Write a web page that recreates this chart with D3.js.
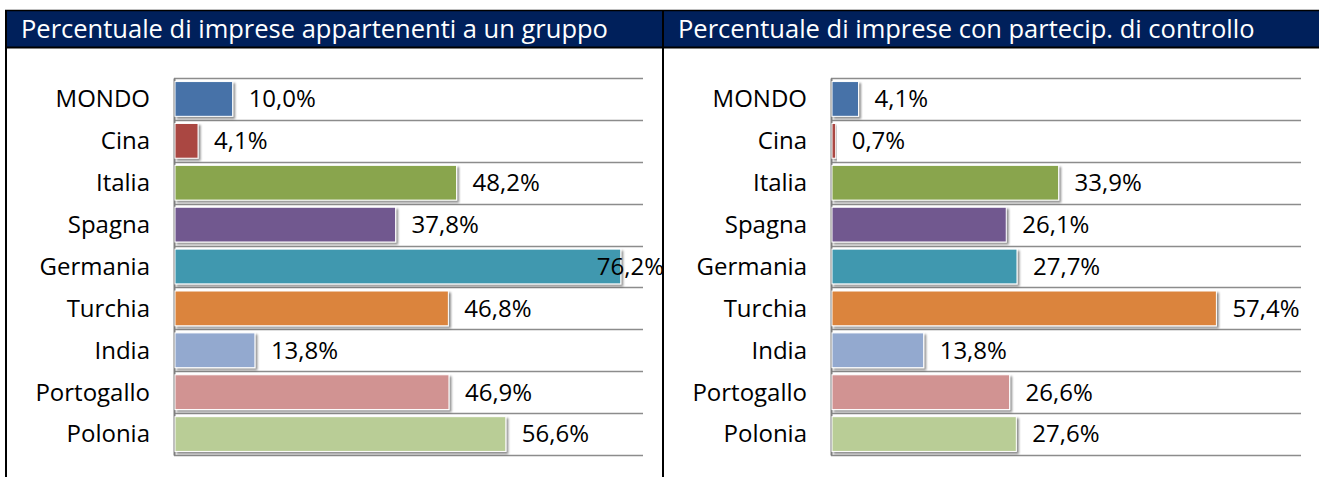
<!DOCTYPE html>
<html>
<head>
<meta charset="utf-8">
<script src="https://cdn.jsdelivr.net/npm/d3@7"></script>
<style>
  body { margin: 0; background: #fff; }
  svg text { font-family: "Open Sans", Lato, sans-serif; }
</style>
</head>
<body>
<div id="chart"></div>
<script>
var width = 1319,
  height = 477;

var categories = ["MONDO", "Cina", "Italia", "Spagna", "Germania", "Turchia", "India", "Portogallo", "Polonia"];
var groupValues = [10.0, 4.1, 48.2, 37.8, 76.2, 46.8, 13.8, 46.9, 56.6];
var controlValues = [4.1, 0.7, 33.9, 26.1, 27.7, 57.4, 13.8, 26.6, 27.6];
var barColors = ["#4672A8", "#AA4643", "#89A54E", "#71588F", "#4198AF", "#DB843D", "#93A9CF", "#D19392", "#B9CD96"];
var titles = ["Percentuale di imprese appartenenti a un gruppo", "Percentuale di imprese con partecip. di controllo"];

var itLocale = d3.formatLocale({ decimal: ",", thousands: ".", grouping: [3], currency: ["", " €"] });
var fmt = itLocale.format(".1f");

var svg = d3.select("#chart").append("svg")
  .attr("width", width)
  .attr("height", height);

var defs = svg.append("defs");
var shadow = defs.append("filter")
  .attr("id", "shadow")
  .attr("x", "-10%").attr("y", "-20%")
  .attr("width", "130%").attr("height", "160%");
shadow.append("feDropShadow")
  .attr("dx", 2).attr("dy", 2)
  .attr("stdDeviation", 1.2)
  .attr("flood-color", "#000")
  .attr("flood-opacity", 0.45);

// header band
svg.append("rect")
  .attr("x", 5).attr("y", 11)
  .attr("width", width - 5).attr("height", 36)
  .attr("fill", "#00205B");
svg.append("line")
  .attr("x1", 5).attr("x2", width)
  .attr("y1", 10.5).attr("y2", 10.5)
  .attr("stroke", "#000").attr("stroke-width", 1.5);
svg.append("line")
  .attr("x1", 5).attr("x2", width)
  .attr("y1", 47.5).attr("y2", 47.5)
  .attr("stroke", "#000").attr("stroke-width", 2);
svg.append("line")
  .attr("x1", 6).attr("x2", 6)
  .attr("y1", 10).attr("y2", height)
  .attr("stroke", "#000").attr("stroke-width", 2);
svg.append("line")
  .attr("x1", 663).attr("x2", 663)
  .attr("y1", 10).attr("y2", height)
  .attr("stroke", "#000").attr("stroke-width", 2);

var panels = [
  { title: titles[0], values: groupValues, max: 80, left: 174, right: 643, titleX: 21, edge: 664 },
  { title: titles[1], values: controlValues, max: 70, left: 831, right: 1301, titleX: 678, edge: 1319 }
];

var y = d3.scaleBand()
  .domain(categories)
  .range([78, 455])
  .paddingInner(0.17)
  .paddingOuter(0.085);

panels.forEach(drawPanel);

function drawPanel(p) {
  var g = svg.append("g");

  g.append("text")
    .attr("x", p.titleX)
    .attr("y", 38)
    .attr("fill", "#fff")
    .style("font-size", "25.5px")
    .text(p.title);

  var x = d3.scaleLinear()
    .domain([0, p.max])
    .range([p.left, p.right]);

  // horizontal grid lines at band boundaries
  var bounds = categories.map(function(c) { return y(c) - y.step() * y.paddingInner() / 2; });
  bounds.push(y.range()[1]);
  bounds[0] = y.range()[0];
  g.selectAll("line.grid")
    .data(bounds)
    .enter().append("line")
    .attr("class", "grid")
    .attr("x1", p.left).attr("x2", p.right)
    .attr("y1", function(d) { return Math.round(d) + 0.5; })
    .attr("y2", function(d) { return Math.round(d) + 0.5; })
    .attr("stroke", "#8c8c8c")
    .attr("stroke-width", 1.5);

  // category axis
  var axis = g.append("g")
    .attr("transform", "translate(" + p.left + ",0)")
    .call(d3.axisLeft(y).tickSize(0).tickPadding(24));
  axis.select(".domain")
    .attr("stroke", "#808080")
    .attr("stroke-width", 2);
  axis.selectAll("text")
    .attr("fill", "#000")
    .attr("dy", "0.35em")
    .style("font-size", "24px")
    .style("font-family", "'Open Sans', Lato, sans-serif");

  var rows = g.selectAll("g.row")
    .data(categories)
    .enter().append("g")
    .attr("class", "row");

  rows.append("rect")
    .attr("x", x(0) + 1)
    .attr("y", function(d) { return y(d); })
    .attr("width", function(d, i) { return Math.max(x(p.values[i]) - x(0) - 1, 1); })
    .attr("height", y.bandwidth())
    .attr("fill", function(d, i) { return barColors[i]; })
    .attr("stroke", "#fff")
    .attr("stroke-width", 1)
    .attr("filter", "url(#shadow)");

  rows.append("text")
    .attr("y", function(d) { return y(d) + y.bandwidth() / 2; })
    .attr("dy", "0.35em")
    .attr("fill", "#000")
    .style("font-size", "24px")
    .text(function(d, i) { return fmt(p.values[i]) + "%"; })
    .attr("x", function(d, i) {
      var w = this.getComputedTextLength();
      return Math.min(x(p.values[i]) + 16, p.edge - w);
    });
}
</script>
</body>
</html>
